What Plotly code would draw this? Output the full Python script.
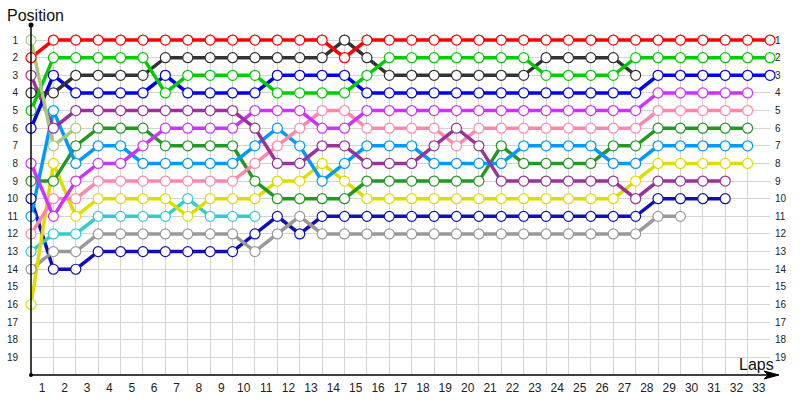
import plotly.graph_objects as go

# positions per lap, starting with the grid (lap 0)
laps_labels = [str(i) for i in range(1, 34)]
position_labels = [str(i) for i in range(1, 20)]

red = [2, 1, 1, 1, 1, 1, 1, 1, 1, 1, 1, 1, 1, 1, 2, 1, 1, 1, 1, 1,
       1, 1, 1, 1, 1, 1, 1, 1, 1, 1, 1, 1, 1, 1]
green = [5, 2, 2, 2, 2, 2, 4, 3, 3, 3, 3, 4, 4, 4, 4, 3, 2, 2, 2, 2,
         2, 2, 2, 3, 3, 3, 3, 2, 2, 2, 2, 2, 2, 2]
black = [4, 4, 3, 3, 3, 3, 2, 2, 2, 2, 2, 2, 2, 2, 1, 2, 3, 3, 3, 3,
         3, 3, 3, 2, 2, 2, 2, 3]
blue = [6, 3, 4, 4, 4, 4, 3, 4, 4, 4, 4, 3, 3, 3, 3, 4, 4, 4, 4, 4,
        4, 4, 4, 4, 4, 4, 4, 4, 3, 3, 3, 3, 3, 3]
purple = [3, 6, 5, 5, 5, 5, 5, 5, 5, 5, 6, 8, 8, 7, 7, 8, 8, 8, 7, 6,
          7, 9, 9, 9, 9, 9, 9, 10, 9, 9, 9, 9]
magenta = [8, 11, 9, 8, 8, 7, 6, 6, 6, 6, 5, 5, 5, 6, 6, 5, 5, 5, 5, 5,
           5, 5, 5, 5, 5, 5, 5, 5, 4, 4, 4, 4, 4]
pink = [12, 10, 10, 9, 9, 9, 9, 9, 9, 9, 8, 7, 6, 5, 5, 6, 6, 6, 6, 7,
        6, 6, 6, 6, 6, 6, 6, 6, 5, 5, 5, 5, 5]
light_blue = [11, 5, 8, 7, 7, 8, 8, 8, 8, 8, 7, 6, 7, 9, 8, 7, 7, 7, 8, 8,
              8, 8, 7, 7, 7, 7, 8, 8, 7, 7, 7, 7, 7]
dark_green = [9, 9, 7, 6, 6, 6, 7, 7, 7, 7, 9, 10, 10, 10, 10, 9, 9, 9, 9, 9,
              9, 7, 8, 8, 8, 8, 7, 7, 6, 6, 6, 6, 6]
yellow = [16, 8, 11, 10, 10, 10, 10, 11, 10, 10, 10, 9, 9, 8, 9, 10, 10, 10, 10, 10,
          10, 10, 10, 10, 10, 10, 10, 9, 8, 8, 8, 8, 8]
teal = [13, 12, 12, 11, 11, 11, 11, 10, 11, 11, 11]
gray = [14, 13, 13, 12, 12, 12, 12, 12, 12, 12, 13, 12, 11, 12, 12, 12, 12, 12, 12, 12,
        12, 12, 12, 12, 12, 12, 12, 12, 11, 11]
navy = [10, 14, 14, 13, 13, 13, 13, 13, 13, 13, 12, 11, 12, 11, 11, 11, 11, 11, 11, 11,
        11, 11, 11, 11, 11, 11, 11, 11, 10, 10, 10, 10]
olive = [1, 7, 6]

drivers = [
    (navy, '#1010bb'),
    (gray, '#999999'),
    (teal, '#33cccc'),
    (yellow, '#dddd00'),
    (dark_green, '#229922'),
    (light_blue, '#0099ff'),
    (pink, '#ff88aa'),
    (magenta, '#cc33ff'),
    (purple, '#993399'),
    (blue, '#0000ee'),
    (black, '#333333'),
    (green, '#00cc00'),
    (red, '#ff0000'),
    (olive, '#a8c878'),
]

fig = go.Figure()

# lines first, then the open circles on top of every line
for series, color in drivers:
    fig.add_trace(go.Scatter(
        x=list(range(len(series))), y=series, mode='lines',
        line=dict(color=color, width=3.5),
        showlegend=False, cliponaxis=False,
    ))
for series, color in drivers:
    fig.add_trace(go.Scatter(
        x=list(range(len(series))), y=series, mode='markers',
        marker=dict(symbol='circle', size=10, color='white',
                    line=dict(color=color, width=1.2)),
        showlegend=False, cliponaxis=False,
    ))

# invisible trace so the right-hand position axis is drawn
fig.add_trace(go.Scatter(x=[0], y=[1], yaxis='y2', mode='markers',
                         marker=dict(opacity=0), showlegend=False,
                         hoverinfo='skip'))

L, R, T, B = 31, 770, 33, 375


def px(x):
    return (x - L) / (R - L)


def py(y):
    return (B - y) / (B - T)


font = 'Liberation Sans'
fig.update_layout(
    width=800, height=400,
    margin=dict(l=L, r=800 - R, t=T, b=400 - B, autoexpand=False),
    plot_bgcolor='white', paper_bgcolor='white',
    font=dict(family=font, color='#222222'),
    xaxis=dict(
        range=[0, 33], tickvals=[i + 0.5 for i in range(33)], ticktext=laps_labels,
        showgrid=False, zeroline=False, showline=False, ticks='', automargin=False,
        ticklabelstandoff=4, tickfont=dict(size=12),
        minor=dict(tick0=0, dtick=1, showgrid=True, gridcolor='#d4d4d4', gridwidth=1),
    ),
    yaxis=dict(
        range=[20, 0.6], tickvals=list(range(1, 20)), ticktext=position_labels,
        showgrid=True, gridcolor='#d4d4d4', gridwidth=1, zeroline=False, automargin=False,
        showline=False, ticks='', ticklabelstandoff=12, tickfont=dict(size=10),
    ),
    yaxis2=dict(
        range=[20, 0.6], tickvals=list(range(1, 20)), ticktext=position_labels,
        overlaying='y', side='right', showgrid=False, zeroline=False, automargin=False,
        showline=False, ticks='', ticklabelstandoff=4, tickfont=dict(size=10),
    ),
    shapes=[
        # y axis with a dot at the top
        dict(type='line', xref='paper', yref='paper', x0=0, x1=0, y0=0, y1=py(25),
             line=dict(color='black', width=1.5), layer='above'),
        dict(type='circle', xref='paper', yref='paper',
             x0=px(L - 2.5), x1=px(L + 2.5), y0=py(27.5), y1=py(22.5),
             fillcolor='black', line=dict(color='black', width=0), layer='above'),
        # x axis with an arrow head
        dict(type='line', xref='paper', yref='paper', x0=0, x1=px(770), y0=0, y1=0,
             line=dict(color='black', width=1.5), layer='above'),
        dict(type='circle', xref='paper', yref='paper',
             x0=px(L - 2), x1=px(L + 2), y0=py(B + 2), y1=py(B - 2),
             fillcolor='black', line=dict(color='black', width=0), layer='above'),
        dict(type='path', xref='paper', yref='paper',
             path=(f'M {px(779)} {py(375)} L {px(764)} {py(371)} '
                   f'L {px(768)} {py(375)} L {px(764)} {py(379)} Z'),
             fillcolor='black', line=dict(color='black', width=1), layer='above'),
    ],
    annotations=[
        dict(text='Position', xref='paper', yref='paper', x=px(5), y=py(15),
             xanchor='left', yanchor='middle', showarrow=False,
             font=dict(size=16, color='#111111', family=font)),
        dict(text='Laps', xref='paper', yref='paper', x=px(776), y=py(364),
             xanchor='right', yanchor='middle', showarrow=False,
             font=dict(size=16, color='#111111', family=font)),
    ],
)

# the page's default body margin would shift the figure by 8px
fig.write_html("out.html", config={'displayModeBar': False},
               post_script="document.body.style.margin = '0';")
